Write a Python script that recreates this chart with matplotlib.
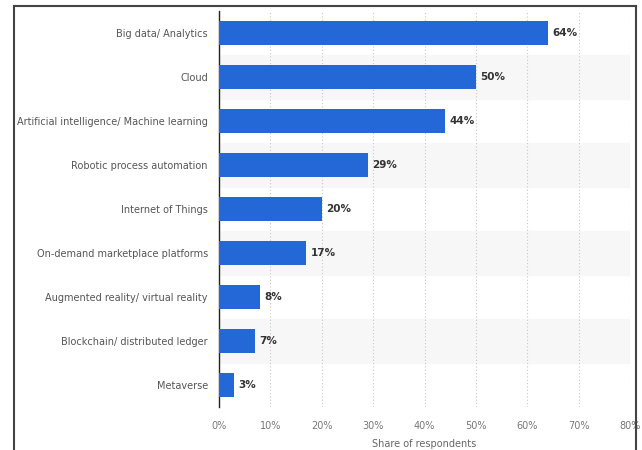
import matplotlib.pyplot as plt
from matplotlib.lines import Line2D

categories = ["Big data/ Analytics", "Cloud", "Artificial intelligence/ Machine learning",
              "Robotic process automation", "Internet of Things",
              "On-demand marketplace platforms", "Augmented reality/ virtual reality",
              "Blockchain/ distributed ledger", "Metaverse"]
values = [64, 50, 44, 29, 20, 17, 8, 7, 3]
xticks = [0, 10, 20, 30, 40, 50, 60, 70, 80]

fig = plt.figure(figsize=(6.42, 4.5), dpi=100)
ax = fig.add_axes([219/642, 1-407/450, (630-219)/642, 396/450])

pos = list(range(len(categories)))
# faint alternating row bands
for i in pos:
    if i % 2 == 1:
        ax.axhspan(i-0.5, i+0.5, color='#f7f7f7', zorder=0)

ax.barh(pos, values, height=0.55, color='#2468d8', zorder=3)
for p, v in zip(pos, values):
    ax.text(v + 0.8, p, f"{v}%", va='center', ha='left', fontsize=7.5,
            fontweight='bold', color='#333333', zorder=4)

ax.set_xlim(0, 80)
ax.set_ylim(8.5, -0.5)
ax.set_yticks(pos)
ax.set_yticklabels(categories, fontsize=7, color='#555555')
ax.set_xticks(xticks)
ax.set_xticklabels([f"{t}%" for t in xticks], fontsize=7, color='#777777')
ax.tick_params(axis='x', length=0, pad=10)
ax.tick_params(axis='y', length=0, pad=8)
ax.xaxis.grid(True, linestyle=(0, (1, 2)), color='#c8c8c8', linewidth=0.8, zorder=1)
ax.set_axisbelow(True)
for s in ['top', 'right', 'bottom']:
    ax.spines[s].set_visible(False)
ax.spines['left'].set_color('#222222')
ax.spines['left'].set_linewidth(1.0)
ax.set_xlabel("Share of respondents", fontsize=7, color='#666666', labelpad=6)

# outer frame
fc = '#444444'
fig.add_artist(Line2D([14/642, 14/642], [0, 1-6/450], color=fc, lw=1.5, transform=fig.transFigure))
fig.add_artist(Line2D([14/642, 636/642], [1-6/450, 1-6/450], color=fc, lw=1.5, transform=fig.transFigure))
fig.add_artist(Line2D([636/642, 636/642], [0, 1-6/450], color=fc, lw=1.5, transform=fig.transFigure))

fig.savefig("out.png", dpi=100)
